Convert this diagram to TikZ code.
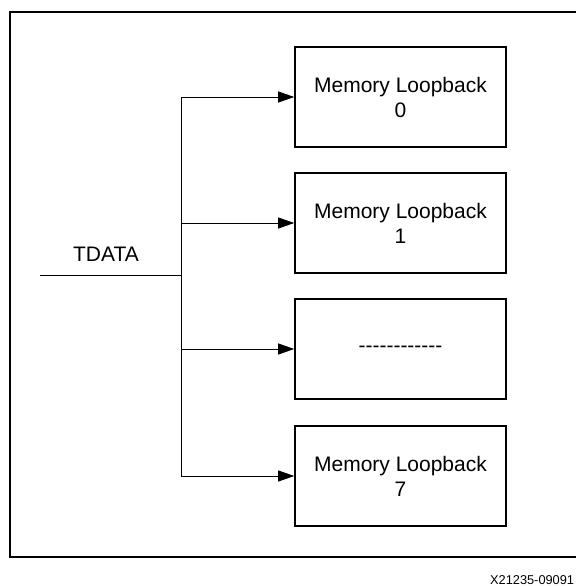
\documentclass[tikz,border=0pt]{standalone}
\usepackage{fontspec}
\setmainfont{Liberation Sans}
\usetikzlibrary{arrows.meta, positioning}
\tikzset{>={Triangle[length=16pt,width=11pt]}}
\tikzset{mem/.style={draw, line width=1.6pt, minimum width=211pt, minimum height=100pt, align=center, font=\fontsize{21}{25}\selectfont, inner sep=0pt}}

\begin{document}
\begin{tikzpicture}[x=1pt, y=-1pt, line width=0.8pt]
		\useasboundingbox (0,0) rectangle (576,586);
		% outer frame, right side runs off the page
		\draw [line width=1.3pt] (576,12) -- (10,12) -- (10,557) -- (576,557);
		
		\node[mem] (A) at (400.5,97) {Memory Loopback\\0};
		\node[mem] (B) at (400.5,223) {Memory Loopback\\1};
		\node[mem] (C) at (400.5,349) {-{}-{}-{}-{}-{}-{}-{}-{}-{}-{}-{}-};
		\node[mem] (D) at (400.5,476) {Memory Loopback\\7};
		
		\coordinate (S) at (40,275);
		\coordinate (J) at (181,275);
		\node[font=\fontsize{21}{25}\selectfont] (T) at (106,254) {TDATA};
		\draw (S)--(J);
		\draw [->](J) |- (A); \draw [->](J) |- (B);
		\draw [->](J) |- (C); \draw [->](J) |- (D);
		
		\node[anchor=base east, inner sep=0pt, font=\fontsize{12.8}{14}\selectfont] (X) at (574.5,584) {X21235-09091};
\end{tikzpicture}
\end{document}
